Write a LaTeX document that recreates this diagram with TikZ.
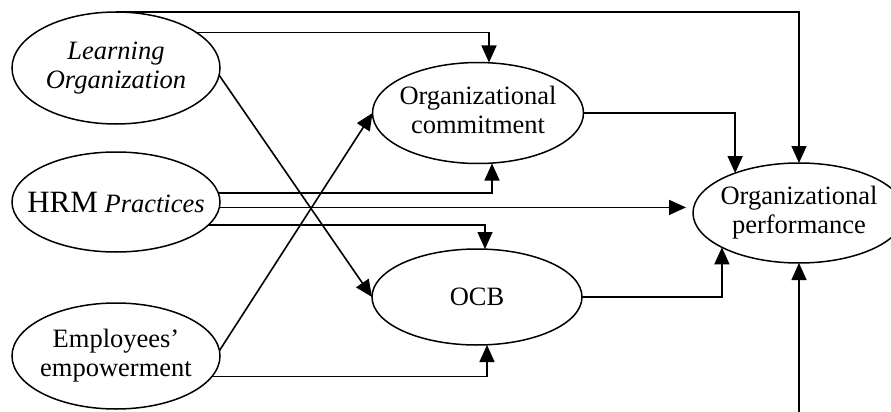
\documentclass[tikz,border=0pt]{standalone}
\usepackage{fontspec}
\setmainfont{Liberation Serif}
\usetikzlibrary{shapes.geometric,arrows.meta}
\newcommand{\twol}[2]{\makebox[0pt]{\begin{tabular}{@{}c@{}}#1\\#2\end{tabular}}}
\begin{document}
\begin{tikzpicture}[x=1pt,y=-1pt,
  ell/.style={ellipse, draw, line width=1.5pt, inner sep=0pt, outer sep=0pt,
    font=\fontsize{26.5}{29}\selectfont},
  arr/.style={line width=1.6pt, -{Triangle[length=17pt,width=15pt]}}]
\useasboundingbox (0,0) rectangle (891,412);
\clip (0,0) rectangle (891,412);
\node[ell, minimum width=208pt, minimum height=112pt] (LO) at (116,68)
  {\twol{\textit{Learning}}{\textit{Organization}}};
\node[ell, minimum width=208pt, minimum height=100pt] (HRM) at (116,202)
  {\makebox[0pt]{{\fontsize{31}{34}\selectfont HRM} \textit{Practices}}};
\node[ell, minimum width=208pt, minimum height=106pt] (EE) at (116,356)
  {\twol{Employees'}{empowerment}};
\node[ell, minimum width=211pt, minimum height=101pt] (OC) at (478,113)
  {\twol{Organizational}{commitment}};
\node[ell, minimum width=210pt, minimum height=96pt] (OCB) at (477,297)
  {\makebox[0pt]{OCB}};
\node[ell, minimum width=212pt, minimum height=100pt] (OP) at (799,213)
  {\twol{Organizational}{performance}};
\coordinate (bot) at (799,412);
% Learning Organization
\draw[arr] (LO.north) -| (OP.north);
\draw[arr] (LO.24) -| ([xshift=11pt]OC.north);
\draw[arr] (LO.-4) -- (OCB.west);
% HRM practices
\draw[arr] (HRM.5.6) -| ([xshift=14pt]OC.south);
\draw[arr, shorten >=7pt] (HRM.-3) -- (HRM.-3 -| OP.west);
\draw[arr] (HRM.-14.5) -| ([xshift=8pt]OCB.north);
% Employees' empowerment
\draw[arr] (EE.3) -- (OC.west);
\draw[arr] (EE.-12) -| ([xshift=10pt]OCB.south);
% mediators to performance
\draw[arr] (OC.east) -| (OP.148);
\draw[arr] (OCB.east) -| (OP.204);
\draw[arr] (bot) -- (OP.south);
\end{tikzpicture}
\end{document}
